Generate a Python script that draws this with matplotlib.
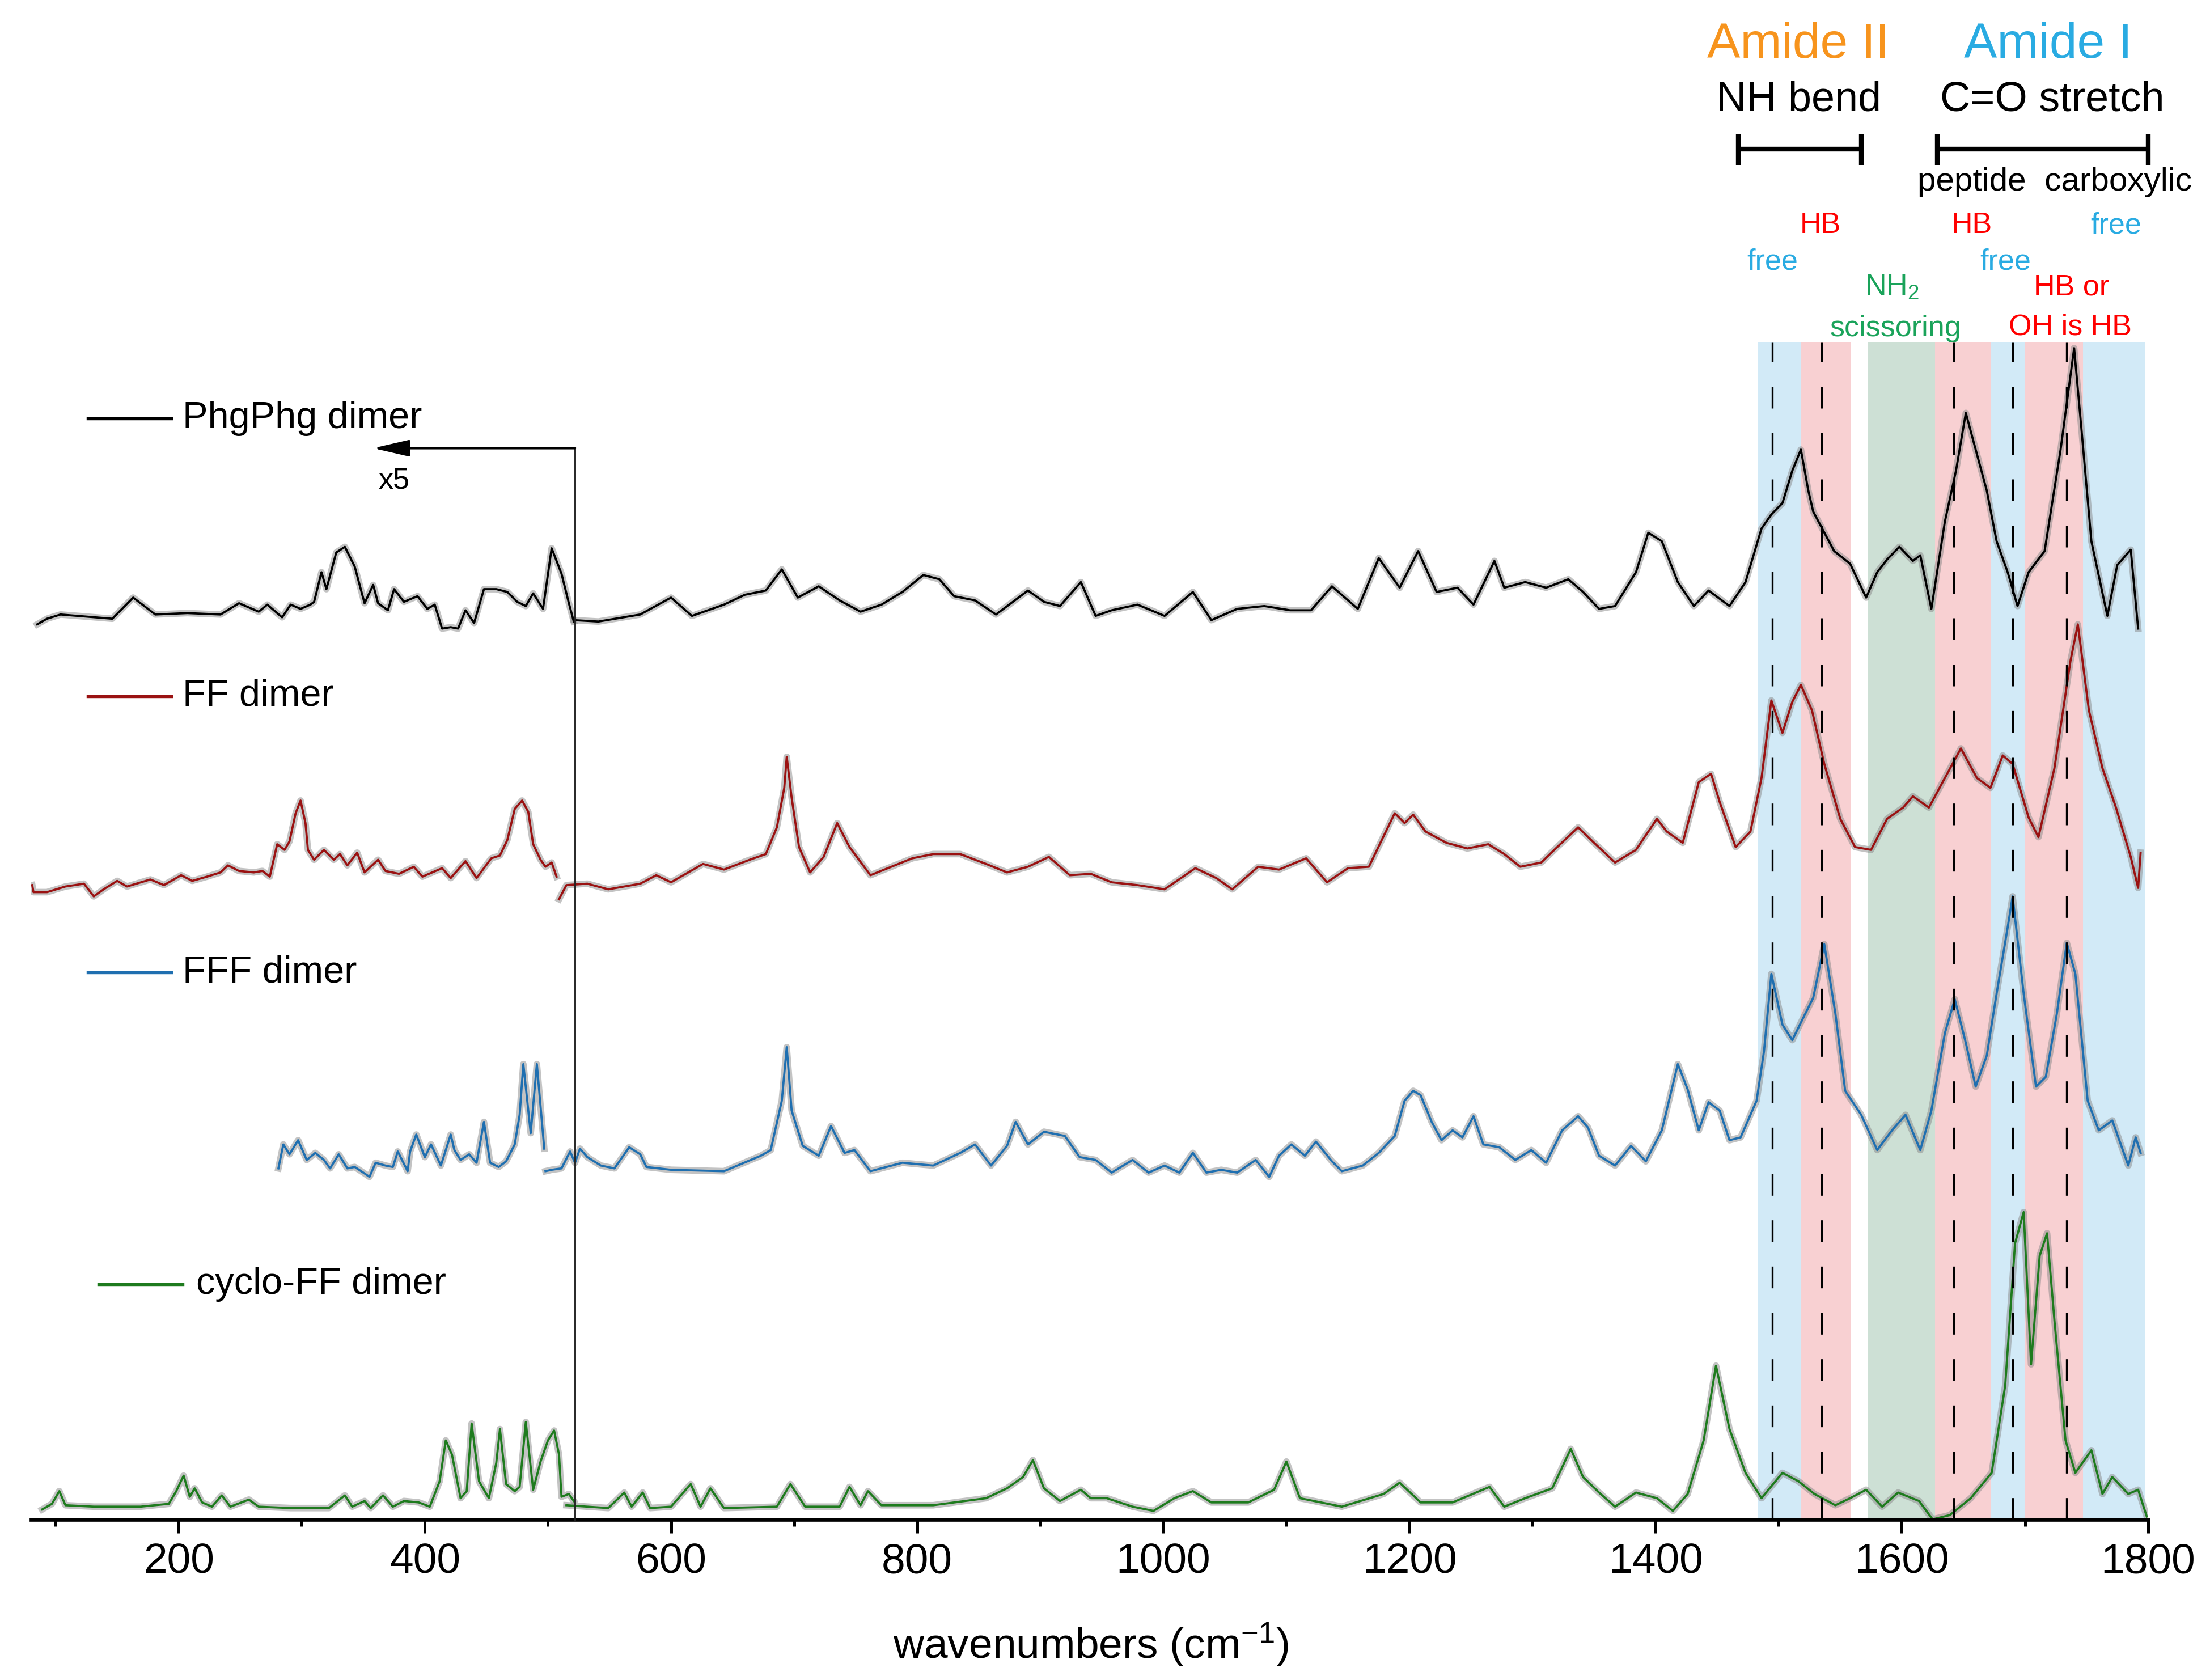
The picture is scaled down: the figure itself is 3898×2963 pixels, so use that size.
import matplotlib
matplotlib.use('Agg')
import matplotlib.pyplot as plt
from matplotlib.ticker import MultipleLocator

plt.rcParams['font.family'] = ['Liberation Sans', 'DejaVu Sans']
plt.rcParams['mathtext.fontset'] = 'custom'
plt.rcParams['mathtext.rm'] = 'Liberation Sans'
plt.rcParams['mathtext.it'] = 'Liberation Sans:italic'
plt.rcParams['mathtext.default'] = 'regular'

# ---------------- data (wavenumber, intensity) ----------------
series_names = ['PhgPhg dimer', 'FF dimer', 'FFF dimer', 'cyclo-FF dimer']
series_colors = ['#000000', '#9a1212', '#1f6fb0', '#1e7b1e']
series_offsets = [630, 440, 240, 0]

# low-wavenumber part (x5 region) and main part of each spectrum
phg_low = [(85, 5), (93, 9), (104, 12), (146, 9), (163, 24), (181, 12), (207, 13), (234, 12),
           (249, 20), (265, 14), (272, 19), (284, 10), (291, 19), (299, 16), (307, 19), (310, 21),
           (316, 42), (320, 30), (328, 56), (335, 60), (343, 46), (351, 20), (358, 33), (362, 20),
           (370, 15), (375, 30), (383, 21), (394, 25), (402, 16), (408, 19), (414, 2), (421, 3),
           (427, 2), (433, 15), (440, 6), (448, 30), (458, 30), (467, 28), (475, 21), (482, 18),
           (488, 27), (496, 16), (503, 59), (511, 41), (517, 20), (521, 7)]
phg_high = [(521, 8), (541, 7), (575, 12), (600, 24), (617, 11), (643, 19), (660, 26), (677, 29),
            (690, 44), (703, 24), (720, 32), (737, 22), (754, 14), (771, 19), (788, 28), (805, 40),
            (818, 37), (830, 25), (847, 22), (864, 12), (890, 29), (903, 21), (916, 18), (933, 35),
            (945, 11), (958, 15), (979, 19), (1001, 11), (1024, 28), (1039, 8), (1060, 16), (1082, 18),
            (1103, 15), (1120, 15), (1137, 32), (1158, 16), (1175, 52), (1192, 31), (1207, 57),
            (1222, 28), (1239, 31), (1252, 19), (1269, 50), (1277, 31), (1294, 35), (1311, 31),
            (1329, 37), (1341, 28), (1354, 16), (1367, 18), (1384, 42), (1394, 70), (1405, 64),
            (1418, 35), (1431, 18), (1443, 29), (1460, 18), (1473, 35), (1486, 73), (1494, 83),
            (1503, 91), (1511, 114), (1518, 129), (1524, 100), (1528, 85), (1545, 57), (1558, 48),
            (1571, 24), (1580, 42), (1588, 51), (1598, 60), (1609, 50), (1615, 54), (1624, 16),
            (1635, 78), (1644, 114), (1652, 155), (1660, 129), (1669, 100), (1677, 64), (1686, 42),
            (1694, 18), (1703, 42), (1716, 57), (1729, 129), (1740, 201), (1746, 143), (1754, 64),
            (1767, 11), (1775, 47), (1786, 58), (1792, 2)]

ff_low = [(81, 10), (82, 5), (93, 5), (108, 9), (123, 11), (131, 2), (139, 7), (150, 13), (158, 9),
          (177, 14), (188, 10), (202, 17), (211, 13), (223, 16), (234, 19), (240, 24), (249, 20),
          (261, 19), (268, 20), (274, 16), (280, 39), (286, 35), (290, 41), (295, 61), (299, 70),
          (303, 54), (305, 35), (310, 28), (318, 35), (326, 28), (331, 32), (337, 24), (345, 33),
          (351, 19), (362, 28), (368, 20), (379, 18), (391, 23), (398, 16), (414, 22), (421, 15),
          (433, 27), (442, 15), (454, 29), (461, 31), (467, 42), (473, 64), (479, 70), (484, 62),
          (488, 39), (494, 28), (498, 23), (503, 26), (507, 16)]
ff_high = [(509, 0), (515, 10), (532, 11), (549, 7), (575, 11), (588, 17), (600, 12), (626, 25),
           (643, 21), (664, 28), (677, 32), (686, 51), (692, 79), (694, 101), (698, 72), (704, 37),
           (713, 19), (724, 30), (735, 54), (745, 37), (762, 17), (779, 23), (796, 29), (813, 32),
           (835, 32), (856, 25), (873, 19), (890, 23), (907, 30), (924, 17), (941, 18), (958, 12),
           (979, 10), (1001, 7), (1026, 22), (1043, 15), (1056, 7), (1077, 23), (1094, 21),
           (1116, 29), (1133, 12), (1150, 22), (1167, 23), (1178, 43), (1188, 61), (1196, 54),
           (1203, 60), (1213, 48), (1230, 40), (1247, 36), (1264, 39), (1277, 32), (1290, 23),
           (1307, 26), (1320, 37), (1337, 51), (1350, 40), (1367, 26), (1384, 35), (1401, 57),
           (1409, 48), (1422, 40), (1435, 83), (1445, 89), (1452, 69), (1465, 37), (1477, 48),
           (1486, 86), (1494, 141), (1503, 118), (1511, 140), (1518, 152), (1527, 134), (1537, 96),
           (1550, 57), (1562, 37), (1575, 35), (1588, 57), (1601, 65), (1609, 73), (1622, 65),
           (1635, 86), (1648, 107), (1661, 86), (1672, 79), (1682, 102), (1690, 96), (1703, 58),
           (1711, 44), (1724, 93), (1737, 169), (1743, 195), (1752, 134), (1763, 93), (1774, 65),
           (1786, 30), (1792, 8), (1794, 33)]

fff_low = [(281, 9), (285, 26), (290, 19), (297, 29), (304, 15), (311, 20), (318, 15), (323, 9),
           (330, 19), (337, 9), (343, 10), (350, 6), (355, 3), (360, 13), (368, 11), (374, 10),
           (378, 21), (386, 7), (388, 21), (393, 33), (400, 17), (405, 26), (413, 11), (421, 33),
           (424, 22), (429, 15), (436, 19), (442, 13), (448, 42), (453, 13), (460, 10), (466, 14),
           (473, 26), (477, 47), (480, 83), (486, 34), (491, 83), (497, 23)]
fff_high = [(498, 7), (503, 8), (511, 9), (518, 21), (522, 13), (526, 23), (532, 17), (543, 11),
            (554, 9), (566, 24), (575, 19), (580, 10), (600, 8), (643, 7), (673, 18), (681, 22),
            (690, 57), (694, 95), (698, 50), (707, 25), (720, 18), (730, 39), (741, 20), (749, 22),
            (762, 7), (788, 13), (813, 11), (835, 20), (847, 26), (860, 11), (873, 25), (880, 42),
            (890, 26), (903, 35), (920, 32), (932, 17), (945, 15), (958, 6), (975, 15), (988, 6),
            (1001, 11), (1013, 6), (1024, 20), (1035, 6), (1047, 8), (1060, 6), (1075, 15),
            (1086, 3), (1094, 18), (1104, 26), (1115, 18), (1124, 28), (1137, 14), (1145, 7),
            (1162, 11), (1175, 20), (1188, 32), (1196, 57), (1203, 64), (1209, 61), (1218, 42),
            (1226, 29), (1235, 36), (1243, 31), (1252, 46), (1260, 26), (1273, 24), (1286, 15),
            (1299, 22), (1311, 13), (1324, 36), (1337, 46), (1345, 38), (1354, 18), (1367, 11),
            (1380, 25), (1392, 14), (1405, 36), (1418, 83), (1426, 65), (1435, 36), (1443, 56),
            (1452, 50), (1460, 29), (1469, 31), (1482, 57), (1488, 92), (1494, 147), (1503, 111),
            (1511, 100), (1520, 116), (1528, 130), (1537, 168), (1546, 119), (1554, 64), (1567, 47),
            (1580, 22), (1592, 36), (1603, 47), (1615, 22), (1624, 50), (1635, 105), (1643, 129),
            (1652, 98), (1660, 67), (1669, 89), (1677, 133), (1686, 180), (1690, 202), (1699, 133),
            (1709, 67), (1717, 74), (1726, 119), (1734, 169), (1741, 147), (1751, 57), (1760, 36),
            (1771, 43), (1784, 11), (1790, 31), (1794, 20)]

cff_low = [(89, 7), (97, 11), (103, 20), (108, 10), (131, 9), (169, 9), (192, 11), (198, 20),
           (204, 31), (209, 16), (213, 22), (219, 12), (227, 9), (235, 17), (242, 9), (257, 14),
           (265, 9), (291, 8), (322, 8), (335, 17), (341, 9), (351, 13), (356, 8), (366, 17),
           (374, 9), (383, 13), (395, 12), (404, 9), (412, 27), (417, 56), (422, 46), (429, 15),
           (434, 20), (438, 68), (444, 27), (452, 15), (458, 40), (461, 64), (466, 25), (473, 20),
           (477, 23), (482, 69), (488, 21), (494, 41), (500, 56), (505, 63), (509, 46), (511, 16),
           (517, 18), (521, 13)]
cff_high = [(515, 10), (549, 8), (562, 19), (568, 9), (577, 19), (583, 8), (600, 9), (616, 25),
            (624, 9), (632, 22), (643, 8), (686, 9), (697, 25), (709, 9), (737, 9), (745, 23),
            (754, 10), (760, 20), (771, 10), (813, 10), (856, 15), (873, 22), (886, 30), (894, 42),
            (903, 22), (916, 13), (933, 21), (941, 15), (954, 15), (975, 9), (992, 6), (1009, 15),
            (1024, 20), (1039, 12), (1069, 12), (1090, 21), (1100, 41), (1111, 15), (1145, 9),
            (1179, 18), (1192, 26), (1209, 12), (1235, 12), (1265, 23), (1277, 9), (1294, 15),
            (1316, 22), (1331, 50), (1341, 30), (1354, 19), (1367, 9), (1384, 19), (1401, 15),
            (1414, 6), (1426, 18), (1439, 56), (1449, 109), (1460, 64), (1473, 33), (1486, 15),
            (1503, 33), (1516, 27), (1529, 18), (1546, 10), (1558, 15), (1571, 21), (1584, 9),
            (1597, 19), (1614, 13), (1625, 0), (1639, 3), (1656, 15), (1673, 33), (1684, 95),
            (1692, 196), (1699, 218), (1705, 110), (1712, 187), (1718, 203), (1724, 141),
            (1733, 56), (1741, 33), (1754, 49), (1763, 18), (1771, 30), (1784, 18), (1792, 21),
            (1799, 2)]

series_segments = [[phg_low, phg_high], [ff_low, ff_high], [fff_low, fff_high], [cff_low, cff_high]]

# assignment bands (cm-1)
band_starts = [1483, 1518, 1572, 1627, 1672, 1700, 1747]
band_ends = [1518, 1559, 1627, 1672, 1700, 1747, 1798]
band_kinds = ['free', 'HB', 'NH2', 'HB', 'free', 'HB', 'free']
band_colors = {'free': '#d2eaf7', 'HB': '#f8d0d2', 'NH2': '#cde0d5'}
marker_lines = [1495, 1535, 1642, 1690, 1734]
scale_break = 522
xticks_major = [200, 400, 600, 800, 1000, 1200, 1400, 1600, 1800]

# ---------------- figure ----------------
fig = plt.figure(figsize=(3898 / 300, 2963 / 300), dpi=300)
ax = fig.add_axes([22 / 1568, 1 - 1078 / 1192, (1524 - 22) / 1568, 1078 / 1192])
ax.set_xlim(80, 1800)
ax.set_ylim(0, 1078)
band_top = 835

for x0, x1, k in zip(band_starts, band_ends, band_kinds):
    ax.fill_between([x0, x1], 0, band_top, color=band_colors[k], lw=0, zorder=0)

for segs, col, off in zip(series_segments, series_colors, series_offsets):
    for seg in segs:
        xs = [p[0] for p in seg]
        ys = [p[1] + off for p in seg]
        ax.plot(xs, ys, color='#888888', lw=2.8, alpha=0.5, zorder=1, solid_joinstyle='round')
        ax.plot(xs, ys, color=col, lw=0.9, zorder=2)

for xm in marker_lines:
    ax.plot([xm, xm], [0, band_top], color='black', lw=0.8, dashes=(11.5, 13), zorder=3)

# scale break / x5 arrow
ax.plot([scale_break, scale_break], [0, 760], color='#222222', lw=0.7, zorder=3, clip_on=False)
ax.annotate('', xy=(358, 760), xytext=(scale_break, 760),
            arrowprops=dict(arrowstyle='-|>,head_length=1.3,head_width=0.3', mutation_scale=10,
                            color='black', lw=1.0, shrinkA=0, shrinkB=0))
ax.text(375, 737, 'x5', fontsize=12.5, ha='center', va='center')

# legend-like labels
label_y = [781, 584, 388, 167]
label_x0 = [126, 126, 126, 135]
label_x1 = [194, 194, 194, 203]
for name, col, yv, a, b in zip(series_names, series_colors, label_y, label_x0, label_x1):
    ax.plot([a, b], [yv, yv], color=col, lw=1.3, clip_on=False)
    ax.text(b + 9 if name != 'cyclo-FF dimer' else b + 11, yv, name, fontsize=16,
            ha='left', va='center')

# annotations above bands
kw = dict(ha='center', va='center', clip_on=False)
ax.text(1516, 1046, 'Amide II', fontsize=21, color='#f7941d', **kw)
ax.text(1719, 1046, 'Amide I', fontsize=21, color='#29abe2', **kw)
ax.text(1516, 1007, 'NH bend', fontsize=17.7, color='black', **kw)
ax.text(1722, 1007, 'C=O stretch', fontsize=17.7, color='black', **kw)
for a, b in [(1467, 1567), (1629, 1800)]:
    ax.plot([a, b], [972, 972], color='black', lw=2.0, clip_on=False, solid_capstyle='butt')
    for e in (a, b):
        ax.plot([e, e], [961, 983], color='black', lw=2.0, clip_on=False, solid_capstyle='butt')
ax.text(1724, 949, 'peptide  carboxylic', fontsize=14, color='black', **kw)
ax.text(1534, 918, 'HB', fontsize=12.5, color='#ff0000', **kw)
ax.text(1495, 892, 'free', fontsize=12.5, color='#29abe2', **kw)
ax.text(1657, 918, 'HB', fontsize=12.5, color='#ff0000', **kw)
ax.text(1684, 892, 'free', fontsize=12.5, color='#29abe2', **kw)
ax.text(1774, 918, 'free', fontsize=12.5, color='#29abe2', **kw)
ax.text(1592, 874, 'NH$_2$', fontsize=12.5, color='#1aa35a', **kw)
ax.text(1595, 845, 'scissoring', fontsize=12.5, color='#1aa35a', **kw)
ax.text(1738, 874, 'HB or', fontsize=12.5, color='#ff0000', **kw)
ax.text(1737, 846, 'OH is HB', fontsize=12.5, color='#ff0000', **kw)

# axes styling
for s in ['left', 'right', 'top']:
    ax.spines[s].set_visible(False)
ax.spines['bottom'].set_linewidth(1.6)
ax.set_yticks([])
ax.set_xticks(xticks_major)
ax.xaxis.set_minor_locator(MultipleLocator(100))
ax.tick_params(axis='x', which='major', length=5.8, width=1.2, labelsize=18, pad=4, direction='out')
ax.tick_params(axis='x', which='minor', length=2.8, width=1.2, direction='out')
ax.text(941, -89, 'wavenumbers (cm$^{-1}$)', fontsize=18,
        ha='center', va='center', clip_on=False)

fig.savefig('out.png', dpi=300)
